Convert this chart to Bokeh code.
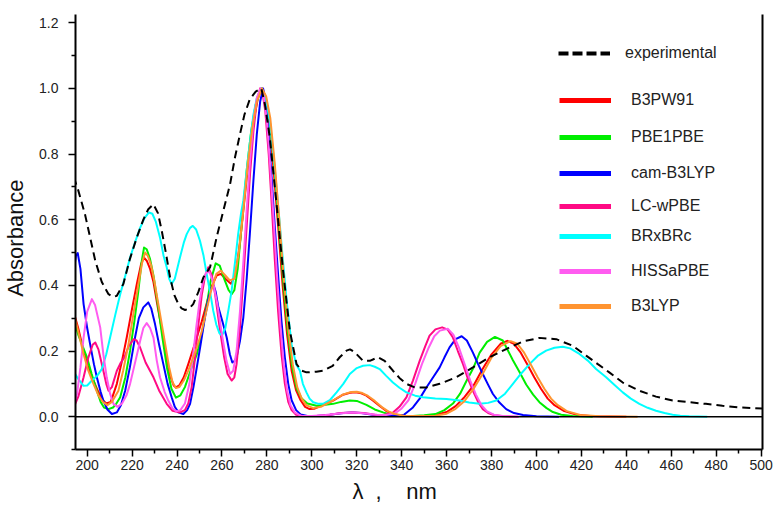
from bokeh.plotting import figure
from bokeh.models import Range1d, FixedTicker, LinearAxis, Span, Legend, LegendItem, PrintfTickFormatter
from bokeh.embed import file_html
from bokeh.resources import INLINE

# ---------------- data ----------------
series_names = ["experimental", "B3PW91", "PBE1PBE", "cam-B3LYP", "LC-wPBE",
                "BRxBRc", "HISSaPBE", "B3LYP"]

exp_x = [194, 196, 199, 201.5, 203.6, 206.5, 209.5, 211.5, 213.2, 216.1, 219, 222.1, 225,
         227.2, 229.5, 231.5, 233.2, 235, 236.9, 238.8, 240.6, 242, 243.6, 245.5, 247.2,
         249.5, 251.7, 254.7, 257.6, 260.6, 263.6, 265.8, 268, 270, 272.4, 275, 277.5,
         279.1, 281.3, 284.3, 287.2, 290.2, 293.2, 295.5, 297.6, 299, 302, 305, 309.3,
         312.4, 315.4, 317, 319.1, 322.8, 325.8, 329.5, 332.4, 336.1, 339, 342.1, 345.8,
         351, 356.9, 364.3, 371.7, 379.1, 386.5, 393.9, 401.3, 408.8, 416.1, 422.1, 427.3,
         432.4, 438.4, 445.8, 453.2, 460.6, 468, 475.4, 482.8, 490.2, 497, 500.6]
exp_y = [0.73, 0.69, 0.617, 0.54, 0.475, 0.41, 0.373, 0.365, 0.368, 0.404, 0.48, 0.546, 0.60,
         0.632, 0.647, 0.62, 0.566, 0.50, 0.424, 0.37, 0.343, 0.33, 0.325, 0.33, 0.343,
         0.38, 0.424, 0.455, 0.546, 0.627, 0.708, 0.79, 0.86, 0.92, 0.967, 0.99, 1.0,
         0.952, 0.85, 0.647, 0.444, 0.262, 0.160, 0.14, 0.135, 0.135, 0.137, 0.140, 0.155,
         0.181, 0.201, 0.205, 0.196, 0.170, 0.170, 0.181, 0.170, 0.140, 0.118, 0.10, 0.089,
         0.089, 0.10, 0.12, 0.15, 0.181, 0.206, 0.229, 0.240, 0.236, 0.216, 0.186, 0.160,
         0.135, 0.104, 0.079, 0.061, 0.049, 0.044, 0.039, 0.033, 0.028, 0.026, 0.025]

b3pw91_x = [193.8, 196, 198.4, 200.5, 202.8, 205, 207, 208.5, 210.5, 213.2, 215.5, 217.6,
            220, 222.1, 224, 225.2, 226.5, 228, 229.5, 231.5, 233.9, 235.5, 236.9, 238.5,
            239.5, 241, 243, 245, 248.8, 251, 253, 255, 257.6, 259.5, 261.5, 264, 266, 268,
            270, 272, 274, 276, 277.8, 279.5, 281, 283, 285, 287, 289, 291, 293, 295, 297,
            299, 301, 304, 309.5, 313.9, 317, 319.5, 322, 324.3, 327, 330.2, 333, 336, 340,
            345, 350, 355, 360, 364, 368, 372, 376, 380, 384, 387, 390, 393, 396, 399, 402,
            405, 408, 412, 418, 425, 440]
b3pw91_y = [0.323, 0.27, 0.20, 0.15, 0.11, 0.075, 0.05, 0.04, 0.045, 0.10, 0.17, 0.241,
            0.33, 0.404, 0.465, 0.485, 0.475, 0.45, 0.41, 0.33, 0.241, 0.17, 0.125, 0.095,
            0.089, 0.095, 0.12, 0.16, 0.241, 0.29, 0.34, 0.39, 0.43, 0.435, 0.42, 0.405,
            0.43, 0.53, 0.66, 0.79, 0.90, 0.97, 1.0, 0.97, 0.90, 0.75, 0.58, 0.40, 0.25,
            0.14, 0.08, 0.05, 0.03, 0.023, 0.024, 0.033, 0.049, 0.067, 0.073, 0.074, 0.071,
            0.064, 0.05, 0.033, 0.018, 0.008, 0.003, 0.002, 0.002, 0.005, 0.014, 0.032,
            0.06, 0.095, 0.145, 0.19, 0.222, 0.231, 0.222, 0.195, 0.158, 0.12, 0.085,
            0.055, 0.035, 0.018, 0.006, 0.001, 0.0]

pbe1pbe_x = [193.8, 196, 199.9, 202, 204.3, 206, 207.5, 209.5, 211.5, 213, 214.7, 217,
             219.1, 221, 222.8, 224.2, 225.3, 226.5, 228, 229.5, 231.5, 233.5, 235.5, 237.5,
             239.5, 241.5, 243.5, 246, 248.8, 251, 253, 255, 257.2, 259, 261, 263, 264.3,
             265.5, 267, 269, 271, 273, 275, 277.5, 279.5, 281.3, 283.3, 285.3, 287.3, 289.3,
             291.3, 293.3, 295.5, 298, 302.1, 306, 309.5, 313, 316.9, 320, 324.3, 328, 331.7,
             335, 339, 345, 350, 355, 359, 362.8, 366, 368.7, 372, 374.7, 378, 381.5, 385,
             389.5, 392.5, 395.4, 398.5, 401.3, 404.5, 407.3, 411, 416, 425]
pbe1pbe_y = [0.302, 0.25, 0.181, 0.13, 0.079, 0.045, 0.028, 0.023, 0.028, 0.04, 0.059, 0.12,
             0.201, 0.29, 0.384, 0.47, 0.515, 0.51, 0.48, 0.43, 0.34, 0.24, 0.15, 0.085,
             0.058, 0.065, 0.09, 0.14, 0.19, 0.25, 0.33, 0.415, 0.467, 0.46, 0.42, 0.385,
             0.373, 0.385, 0.45, 0.60, 0.75, 0.87, 0.95, 1.0, 0.97, 0.90, 0.76, 0.59, 0.41,
             0.26, 0.15, 0.085, 0.055, 0.04, 0.033, 0.036, 0.039, 0.045, 0.049, 0.048, 0.036,
             0.022, 0.013, 0.006, 0.002, 0.002, 0.004, 0.008, 0.02, 0.04, 0.07, 0.107, 0.15,
             0.195, 0.228, 0.243, 0.232, 0.172, 0.135, 0.098, 0.067, 0.044, 0.026, 0.014,
             0.006, 0.002, 0.0]

camb3lyp_x = [193.8, 195, 195.8, 197, 198.4, 200, 201.3, 203, 204.3, 206, 207.2, 209, 211,
              213.2, 215, 216.9, 219, 221.3, 223, 225, 227.2, 228.5, 230.2, 232, 233.9,
              235.8, 237.6, 239, 240.6, 242.8, 244.5, 245.8, 247.3, 248.8, 250.5, 252.4, 254,
              255.4, 256.3, 257.2, 258.4, 260.2, 262.1, 263.5, 264.6, 265.7, 266.5, 268,
              269.5, 271, 272.4, 274, 275.5, 277, 278.3, 279.3, 280.5, 282, 283.5, 285, 286.5,
              288, 289.5, 291, 293, 295, 298, 302, 308, 314, 318, 322, 327, 332, 337, 341,
              345, 348, 351, 354, 356.9, 359, 361.3, 364, 366.7, 369, 371.7, 374, 376.1,
              378.5, 380.6, 383.5, 386.5, 390, 394, 400, 410]
camb3lyp_y = [0.434, 0.49, 0.498, 0.45, 0.343, 0.27, 0.221, 0.16, 0.12, 0.075, 0.049, 0.022,
              0.008, 0.013, 0.035, 0.079, 0.15, 0.241, 0.30, 0.333, 0.348, 0.33, 0.282, 0.22,
              0.16, 0.10, 0.059, 0.03, 0.013, 0.008, 0.02, 0.039, 0.09, 0.15, 0.22, 0.302,
              0.36, 0.394, 0.40, 0.38, 0.333, 0.29, 0.241, 0.19, 0.165, 0.17, 0.181, 0.23,
              0.302, 0.42, 0.556, 0.72, 0.86, 0.96, 1.0, 0.97, 0.88, 0.74, 0.58, 0.43, 0.29,
              0.18, 0.10, 0.05, 0.02, 0.007, 0.002, 0.002, 0.006, 0.011, 0.013, 0.011, 0.006,
              0.002, 0.002, 0.006, 0.028, 0.055, 0.089, 0.12, 0.150, 0.18, 0.211, 0.236,
              0.245, 0.232, 0.195, 0.16, 0.130, 0.097, 0.069, 0.043, 0.023, 0.011, 0.005,
              0.001, 0.0]

lcwpbe_x = [193.8, 196, 198.4, 200.5, 202.5, 203.6, 205, 207.2, 208.5, 209.5, 211, 213.2,
            215, 216.5, 218.5, 220.6, 222, 223.6, 226, 229.5, 232, 235.4, 238, 241.3, 243.5,
            245, 246.5, 248, 249.5, 251, 252.5, 253.9, 255.5, 257, 259, 261, 262.5, 264.3,
            265.5, 266.5, 268, 269.5, 271, 272.5, 274, 275.5, 277, 278, 279.3, 280.8, 282.2,
            283.5, 285, 286.5, 288, 289.5, 291, 293, 296, 302, 308, 313, 318, 323, 328, 332,
            336, 339, 342.1, 345, 348, 350.5, 352.4, 355, 358, 360.5, 362.8, 365, 367.3,
            369.5, 371.7, 374, 376.1, 378.5, 381, 385, 392]
lcwpbe_y = [0.025, 0.06, 0.12, 0.18, 0.22, 0.226, 0.205, 0.14, 0.10, 0.079, 0.09, 0.14,
            0.165, 0.18, 0.215, 0.236, 0.232, 0.21, 0.165, 0.12, 0.08, 0.039, 0.018, 0.013,
            0.02, 0.04, 0.09, 0.18, 0.28, 0.37, 0.43, 0.455, 0.43, 0.37, 0.27, 0.18, 0.13,
            0.11, 0.12, 0.16, 0.27, 0.42, 0.58, 0.74, 0.87, 0.96, 1.0, 0.99, 0.93, 0.80,
            0.64, 0.48, 0.32, 0.19, 0.10, 0.045, 0.02, 0.006, 0.002, 0.002, 0.006, 0.011,
            0.013, 0.011, 0.006, 0.005, 0.012, 0.03, 0.059, 0.11, 0.17, 0.215, 0.247, 0.266,
            0.272, 0.265, 0.241, 0.20, 0.160, 0.115, 0.079, 0.045, 0.023, 0.011, 0.005,
            0.001, 0.0]

brxbrc_x = [193.8, 196, 198.4, 200, 202.1, 204.5, 206.5, 208.5, 210.2, 212.5, 214.7, 217,
            219.1, 221.5, 223.6, 225.5, 227.5, 229, 230.5, 232.4, 234, 235.4, 236.5, 237.6,
            239, 241.3, 243, 244.3, 245.8, 247, 248.5, 250.2, 251.8, 253.2, 254.7, 256.1,
            257.5, 258.8, 260, 261.5, 263, 264.3, 265.8, 267.2, 268.5, 269.5, 271, 272.5,
            274, 275.5, 277.5, 279.5, 281.3, 283.3, 285.3, 287.2, 289, 291, 293, 294.7, 296,
            297.6, 299, 300.6, 303, 305, 308, 311, 314, 316.9, 320, 322.8, 325.8, 328, 330.2,
            333, 336.1, 339, 342.1, 346, 349.5, 355, 359.9, 365.8, 370, 374.7, 378.5, 382.1,
            386, 389.5, 393, 396.9, 400.5, 404.3, 408, 411.7, 415, 419.1, 423, 426.5, 431,
            434.5, 438.4, 442, 445.8, 449.5, 453.2, 457, 460.6, 464, 468, 476]
brxbrc_y = [0.14, 0.115, 0.094, 0.095, 0.110, 0.125, 0.145, 0.19, 0.241, 0.31, 0.373, 0.43,
            0.485, 0.535, 0.576, 0.605, 0.622, 0.618, 0.595, 0.546, 0.49, 0.455, 0.42, 0.404,
            0.42, 0.485, 0.53, 0.556, 0.575, 0.581, 0.57, 0.536, 0.49, 0.434, 0.38, 0.323,
            0.28, 0.255, 0.247, 0.27, 0.33, 0.384, 0.47, 0.556, 0.62, 0.658, 0.75, 0.84,
            0.92, 0.97, 1.0, 0.97, 0.90, 0.77, 0.62, 0.47, 0.34, 0.22, 0.16, 0.140, 0.10,
            0.074, 0.055, 0.044, 0.039, 0.039, 0.05, 0.074, 0.10, 0.130, 0.148, 0.155, 0.157,
            0.152, 0.145, 0.125, 0.104, 0.088, 0.074, 0.064, 0.059, 0.055, 0.054, 0.049,
            0.043, 0.039, 0.042, 0.049, 0.07, 0.100, 0.13, 0.160, 0.185, 0.201, 0.21, 0.213,
            0.208, 0.191, 0.17, 0.145, 0.120, 0.098, 0.074, 0.055, 0.039, 0.027, 0.018,
            0.011, 0.006, 0.003, 0.001, 0.0]

hissapbe_x = [193.8, 195.5, 197, 198.4, 200, 202.1, 203.5, 205.8, 207.2, 208.7, 210.2,
              211.7, 213.5, 215.5, 217.5, 219.1, 221.5, 223.6, 225, 226.5, 228, 229.5, 231,
              232.4, 234.5, 236.1, 238, 239.8, 241.5, 243.5, 245.5, 247, 248.5, 250, 251.5,
              253, 254.5, 256, 258, 260, 262, 263.6, 265, 266.5, 268, 269.5, 271, 272.5, 274,
              275.5, 277.2, 278.5, 280, 281.5, 283, 284.5, 286, 287.5, 289, 290.5, 292.5, 295,
              300, 306, 312, 318, 324, 329, 333, 337, 340, 343, 346, 349, 352, 354.5, 357,
              360.5, 363, 365.5, 368, 370.5, 373, 375.5, 378, 381, 385, 392]
hissapbe_y = [0.03, 0.07, 0.15, 0.241, 0.32, 0.358, 0.34, 0.272, 0.19, 0.120, 0.07, 0.039,
              0.03, 0.04, 0.065, 0.100, 0.17, 0.231, 0.27, 0.285, 0.27, 0.241, 0.17, 0.120,
              0.075, 0.049, 0.025, 0.016, 0.02, 0.04, 0.1, 0.18, 0.27, 0.35, 0.41, 0.44, 0.44,
              0.41, 0.34, 0.25, 0.17, 0.13, 0.14, 0.2, 0.32, 0.47, 0.63, 0.78, 0.9, 0.97, 1.0,
              0.98, 0.90, 0.76, 0.60, 0.43, 0.28, 0.16, 0.08, 0.035, 0.012, 0.003, 0.002,
              0.005, 0.01, 0.013, 0.01, 0.006, 0.005, 0.01, 0.025, 0.05, 0.10, 0.16, 0.21,
              0.245, 0.262, 0.268, 0.25, 0.21, 0.16, 0.11, 0.068, 0.035, 0.016, 0.006, 0.002,
              0.0]

b3lyp_x = [193.8, 196, 198.4, 200.5, 202.8, 205, 207, 209, 211, 213.9, 216, 218.4, 220.5,
           222.8, 224.5, 225.8, 227, 228.5, 230, 232, 234.5, 236.5, 238, 239.5, 241, 243,
           245, 248.8, 251, 253, 255, 257.5, 259.5, 261.5, 263.5, 265.5, 267.5, 269.5, 271.5,
           273.5, 275.5, 277.8, 279.7, 281.5, 283.5, 285.5, 287.5, 289.5, 291.5, 293.5,
           295.5, 297.5, 300.6, 304, 309.5, 314, 317.5, 320, 322.5, 325, 328, 331, 334, 337,
           341, 346, 350, 355, 360, 364, 368, 372, 376, 380, 384, 388.5, 391.5, 394.5, 397.5,
           400.5, 403.5, 406.5, 409.5, 413.5, 419.5, 428, 445]
b3lyp_y = [0.32, 0.26, 0.19, 0.14, 0.10, 0.065, 0.045, 0.035, 0.045, 0.079, 0.14, 0.221,
           0.31, 0.404, 0.47, 0.50, 0.49, 0.46, 0.41, 0.33, 0.23, 0.15, 0.105, 0.087, 0.09,
           0.11, 0.14, 0.21, 0.26, 0.32, 0.38, 0.435, 0.445, 0.43, 0.415, 0.42, 0.50, 0.63,
           0.77, 0.88, 0.96, 1.0, 0.975, 0.91, 0.77, 0.60, 0.42, 0.27, 0.16, 0.09, 0.055,
           0.035, 0.026, 0.03, 0.05, 0.068, 0.075, 0.076, 0.072, 0.063, 0.048, 0.03, 0.016,
           0.008, 0.003, 0.002, 0.002, 0.003, 0.009, 0.024, 0.048, 0.085, 0.13, 0.18, 0.215,
           0.23, 0.222, 0.195, 0.158, 0.12, 0.085, 0.055, 0.035, 0.017, 0.005, 0.001, 0.0]

x_ticks = [200, 220, 240, 260, 280, 300, 320, 340, 360, 380, 400, 420, 440, 460, 480, 500]
x_minor = [210, 230, 250, 270, 290, 310, 330, 350, 370, 390, 410, 430, 450, 470, 490]
y_ticks = [0.0, 0.2, 0.4, 0.6, 0.8, 1.0, 1.2]
y_minor = [-0.1, 0.1, 0.3, 0.5, 0.7, 0.9, 1.1]

# ---------------- styles ----------------
colors = ["#000000", "#ff0000", "#00ee00", "#0000ff", "#ff0a84", "#00ffff", "#ff5cf0", "#ff9430"]
xs = [exp_x, b3pw91_x, pbe1pbe_x, camb3lyp_x, lcwpbe_x, brxbrc_x, hissapbe_x, b3lyp_x]
ys = [exp_y, b3pw91_y, pbe1pbe_y, camb3lyp_y, lcwpbe_y, brxbrc_y, hissapbe_y, b3lyp_y]

FONT = "Liberation Sans"
NB = "\u00a0"

p = figure(width=776, height=512, output_backend="svg", toolbar_location=None,
           x_range=Range1d(194.8, 500.6), y_range=Range1d(-0.1, 1.225),
           min_border_left=73, min_border_right=14, min_border_top=14, min_border_bottom=63)
p.grid.visible = False
p.outline_line_color = None
p.background_fill_color = "white"
p.border_fill_color = "white"

xa = p.xaxis[0]
xa.ticker = FixedTicker(ticks=x_ticks, minor_ticks=x_minor)
# wide gaps as in the reference; trailing spaces keep the title left of the frame centre
xa.axis_label = "λ" + NB * 2 + "," + NB * 4 + "nm" + NB * 8
ya = p.yaxis[0]
ya.ticker = FixedTicker(ticks=y_ticks, minor_ticks=y_minor)
ya.axis_label = "Absorbance" + NB * 2
ya.formatter = PrintfTickFormatter(format="%.1f")

for ax in (xa, ya):
    ax.axis_line_width = 2
    ax.axis_line_color = "black"
    ax.major_tick_line_width = 1.5
    ax.minor_tick_line_width = 1.5
    ax.major_tick_line_color = "black"
    ax.minor_tick_line_color = "black"
    ax.major_tick_in = 0
    ax.minor_tick_in = 0
    ax.major_tick_out = 7
    ax.minor_tick_out = 4
    ax.major_label_text_font = FONT
    ax.major_label_text_font_size = "14px"
    ax.major_label_text_color = "#222222"
    ax.axis_label_text_font = FONT
    ax.axis_label_text_font_size = "22px"
    ax.axis_label_text_font_style = "normal"
    ax.axis_label_text_color = "#111111"
xa.major_label_standoff = 3
xa.axis_label_standoff = 6
ya.major_label_standoff = 10
ya.axis_label_standoff = 8

ra = LinearAxis(ticker=FixedTicker(ticks=[]), major_label_text_font_size="0px",
                major_tick_line_color=None, minor_tick_line_color=None,
                axis_line_width=2, axis_line_color="black")
p.add_layout(ra, "right")

p.add_layout(Span(location=0, dimension="width", line_color="black", line_width=1.5))

for i in range(1, len(series_names)):
    p.line(xs[i], ys[i], line_color=colors[i], line_width=2, line_join="round")
p.line(xs[0], ys[0], line_color=colors[0], line_width=2, line_dash="8 5")

# legend (one small legend per entry, placed like the reference; sample glyphs carry no data)
NaN = float("nan")
leg_centers = [52.7, 100, 137, 173, 206, 236, 271, 306]   # page px (layout)
frame_left_page, frame_bottom_page = 73, 449
for i, name in enumerate(series_names):
    if i == 0:
        r = p.line([NaN], [NaN], line_color="black", line_width=4, line_dash="10 4")
        lx, standoff = 556 - frame_left_page, 15
    else:
        r = p.line([NaN], [NaN], line_color=colors[i], line_width=5)
        lx, standoff = 557 - frame_left_page, 20
    ly = frame_bottom_page - (leg_centers[i] + 10)
    leg = Legend(items=[LegendItem(label=name, renderers=[r])], location=(lx, ly),
                 glyph_width=52, glyph_height=20, label_height=20, label_standoff=standoff,
                 padding=0, margin=0, spacing=0, border_line_color=None,
                 background_fill_alpha=0, label_text_font=FONT,
                 label_text_font_size="16px", label_text_color="#222222")
    p.add_layout(leg)

open("out.html", "w").write(file_html(p, INLINE, title="Absorbance spectra"))
